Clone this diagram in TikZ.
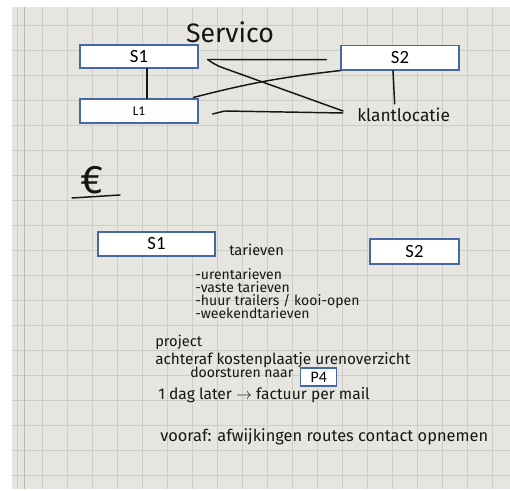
\documentclass[tikz,border=0pt]{standalone}
\usepackage{fontspec}
\setmainfont{Carlito}
\newfontfamily\handfont{Fira Sans}
\usetikzlibrary{positioning,calc}
\definecolor{paper}{RGB}{231,229,224}
\definecolor{gridline}{RGB}{206,204,199}
\definecolor{boxblue}{RGB}{70,104,165}
\definecolor{ink}{RGB}{22,22,22}
\tikzset{
  box/.style={draw=boxblue, fill=white, line width=0.9pt, inner sep=0pt,
              font=\fontsize{14}{14}\selectfont},
  hand/.style={text=ink, inner sep=0pt, font=\handfont\fontsize{#1}{#1}\selectfont},
  hand/.default=10.5,
  link/.style={ink, line width=1.1pt, line cap=round, line join=round}
}

\begin{document}
\begin{tikzpicture}[x=0.75pt, y=-0.75pt]
  \useasboundingbox (0,0) rectangle (510,491);
  \fill[white] (0,0) rectangle (510,491);
  \fill[paper] (12,7) rectangle (510,489);
  \begin{scope}
    \clip (12,7) rectangle (510,489);
    \foreach \gx in {17,42,...,492}
      \draw[gridline, line width=0.5pt] (\gx,7) -- (\gx,489);
    \foreach \gy in {25,50,...,475}
      \draw[gridline, line width=0.5pt] (12,\gy) -- (510,\gy);
  \end{scope}
  \draw[gray!55, line width=0.6pt] (24,7) -- (24,489);

  % service
  \node[hand=20] (servico) at (230,32) {Servico};
  \node[box, minimum width=88.5pt, minimum height=17.3pt] (s1top) at (139,56.5) {S1};
  \node[box, minimum width=88.5pt, minimum height=18.4pt] (s2top) at (400,57.7) {S2};
  \node[box, minimum width=88.5pt, minimum height=18pt,
        font=\fontsize{10}{10}\selectfont] (l1) at (139,111) {L1};
  \node[hand=13, anchor=west] (klant) at (357,115) {klantlocatie};

  \draw[link] ([shift={(8,0)}]s1top.south) -- ([shift={(8,0)}]l1.north);
  \draw[link] ([shift={(-7,0)}]s2top.south) -- ([shift={(-9,-4)}]klant.north);
  \draw[link] ([shift={(9,3)}]s1top.east) -- ([shift={(-14,2)}]s2top.west);
  \draw[link, rounded corners=4pt] ([shift={(9,3)}]s1top.east) -- ++(9,6)
    -- ([shift={(-14,-4)}]klant.west);
  \draw[link] ([shift={(-5,-1)}]l1.north east) to[bend left=4] (s2top.south west);
  \draw[link] ([shift={(14,3)}]l1.east) -- ++(12,-3) -- ([shift={(-14,-2)}]klant.west);

  % euro
  \node[hand=30] (euro) at (92,180) {€};
  \coordinate (ulA) at (72,198);
  \coordinate (ulB) at (120,195);
  \draw[link] (ulA) -- (ulB);

  \node[box, minimum width=87.8pt, minimum height=18pt] (s1bot) at (156.5,244) {S1};
  \node[box, minimum width=66.8pt, minimum height=18.8pt] (s2bot) at (414.5,251.5) {S2};
  \node[hand=11, anchor=west] (tarieven) at (229,250) {tarieven};
  \foreach \txt [count=\i] in {-urentarieven, -vaste tarieven,
      -huur trailers / kooi-open, -weekendtarieven}
    \node[hand, anchor=base west] (item\i) at (195,267+13*\i) {\txt};

  % project
  \node[hand=11, anchor=base west] (project) at (155,347) {project};
  \node[hand=11.5, anchor=base west] (achteraf) at (155,364) {achteraf kostenplaatje urenoverzicht};
  \node[hand=10.5, anchor=base west] (doorsturen) at (190,377) {doorsturen naar};
  \node[box, minimum width=27pt, minimum height=13.5pt,
        font=\fontsize{12}{12}\selectfont] (p4) at (318.7,377) {P4};
  \node[hand=11.7, anchor=base west] (dag) at (158,399) {1 dag later $\rightarrow$ factuur per mail};
  \node[hand=12.3, anchor=base west] (vooraf) at (160,441) {vooraf: afwijkingen routes contact opnemen};
\end{tikzpicture}
\end{document}
